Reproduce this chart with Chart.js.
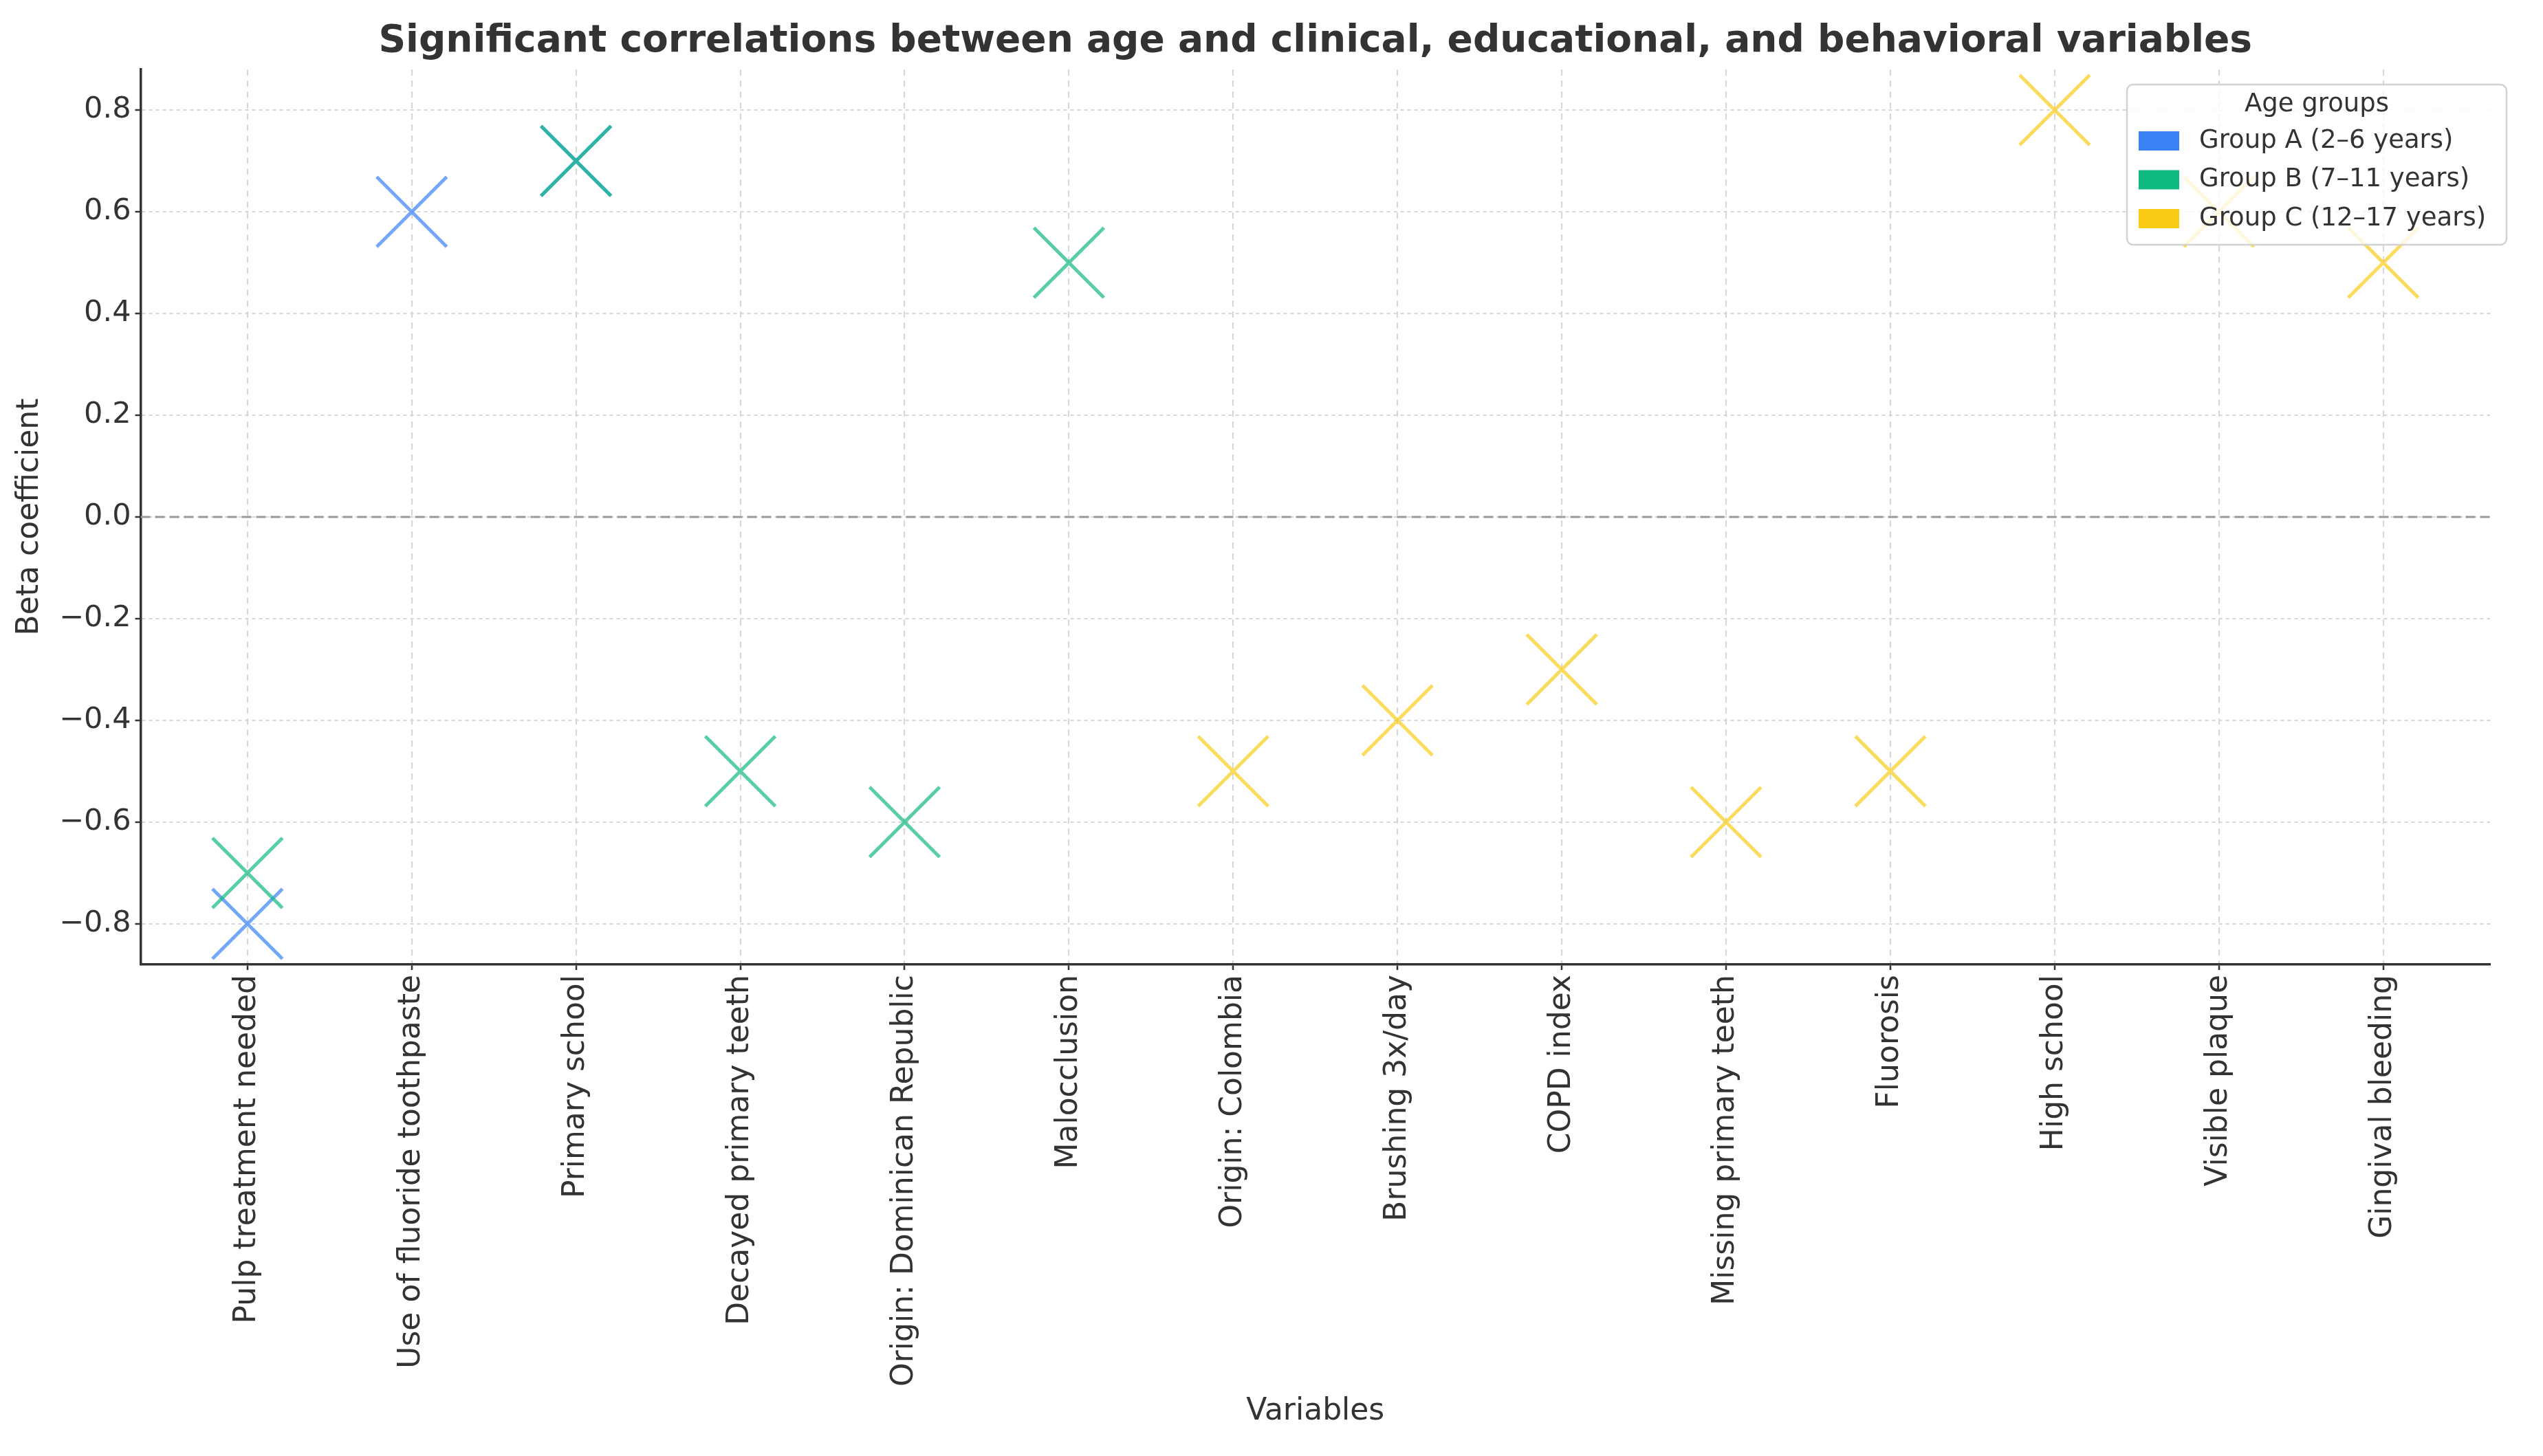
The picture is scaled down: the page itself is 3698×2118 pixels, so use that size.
<!DOCTYPE html>
<html lang="en">
<head>
<meta charset="UTF-8" />
<title>Significant correlations between age and clinical, educational, and behavioral variables</title>
<script src="https://cdn.jsdelivr.net/npm/chart.js@4.4.1/dist/chart.umd.min.js"></script>
<style>
  body { margin: 0; padding: 0; background: #fff; }
  #chart { display: block; }
</style>
</head>
<body>
<canvas id="chart" width="3698" height="2118"></canvas>
<script>
const categories = [
  'Pulp treatment needed', 'Use of fluoride toothpaste', 'Primary school',
  'Decayed primary teeth', 'Origin: Dominican Republic', 'Malocclusion',
  'Origin: Colombia', 'Brushing 3x/day', 'COPD index', 'Missing primary teeth',
  'Fluorosis', 'High school', 'Visible plaque', 'Gingival bleeding'
]
const groupA = [-0.8, 0.6, 0.7, null, null, null, null, null, null, null, null, null, null, null]
const groupB = [-0.7, null, 0.7, -0.5, -0.6, 0.5, null, null, null, null, null, null, null, null]
const groupC = [null, null, null, null, null, null, -0.5, -0.4, -0.3, -0.6, -0.5, 0.8, 0.6, 0.5]
const groupNames = ['Group A (2–6 years)', 'Group B (7–11 years)', 'Group C (12–17 years)']
const groupColors = ['#3b82f6', '#10b981', '#facc15']
const yTicks = [-0.8, -0.6, -0.4, -0.2, 0, 0.2, 0.4, 0.6, 0.8]

const FONT = "'DejaVu Sans', sans-serif"
const TEXT = '#333333'

const alpha = (hex, a) => {
  const n = parseInt(hex.slice(1), 16)
  return `rgba(${(n >> 16) & 255}, ${(n >> 8) & 255}, ${n & 255}, ${a})`
}

const toPoints = (values) =>
  values
    .map((v, i) => (v === null ? null : { x: i, y: v }))
    .filter((p) => p !== null)

const groups = [groupA, groupB, groupC]

const xMin = -0.65
const xMax = categories.length - 1 + 0.65

const markerSets = groups.map((values, i) => ({
  label: groupNames[i],
  data: toPoints(values),
  pointStyle: 'crossRot',
  pointRadius: 72,
  pointHoverRadius: 72,
  pointBorderWidth: 5,
  borderColor: alpha(groupColors[i], 0.7),
  backgroundColor: alpha(groupColors[i], 0.7),
  order: 3 - i,
}))

const zeroLine = {
  label: 'zero',
  data: [{ x: xMin, y: 0 }, { x: xMax, y: 0 }],
  showLine: true,
  pointRadius: 0,
  borderColor: '#999999',
  borderWidth: 3,
  borderDash: [14, 7],
  order: 10,
}

// title above the plot area and the "Age groups" legend box inside it
const decor = {
  id: 'decor',
  afterDatasetsDraw(chart) {
    const { ctx, chartArea } = chart
    ctx.save()
    ctx.fillStyle = TEXT
    ctx.font = `bold 55px ${FONT}`
    ctx.textAlign = 'center'
    ctx.textBaseline = 'middle'
    ctx.fillText(
      'Significant correlations between age and clinical, educational, and behavioral variables',
      (chartArea.left + chartArea.right) / 2,
      61
    )

    const bx = 3093, by = 123, bw = 552, bh = 233, r = 9
    ctx.beginPath()
    ctx.roundRect(bx, by, bw, bh, r)
    ctx.fillStyle = 'rgba(255,255,255,0.8)'
    ctx.fill()
    ctx.lineWidth = 2.5
    ctx.strokeStyle = '#d2d2d2'
    ctx.stroke()

    ctx.fillStyle = TEXT
    ctx.font = `37px ${FONT}`
    ctx.textAlign = 'center'
    ctx.fillText('Age groups', bx + bw / 2, 152)

    ctx.textAlign = 'left'
    groupNames.forEach((name, i) => {
      const cy = 205 + i * 56.5
      ctx.fillStyle = groupColors[i]
      ctx.fillRect(bx + 17, cy - 14, 59, 28)
      ctx.fillStyle = TEXT
      ctx.fillText(name, bx + 105, cy)
    })
    ctx.restore()
  },
}

new Chart(document.getElementById('chart'), {
  type: 'scatter',
  data: { datasets: [...markerSets, zeroLine] },
  plugins: [decor],
  options: {
    responsive: false,
    devicePixelRatio: 1,
    animation: false,
    events: [],
    layout: { padding: { top: 101, right: 40, left: 0, bottom: 0 } },
    plugins: {
      legend: { display: false },
      tooltip: { enabled: false },
      title: { display: false },
    },
    scales: {
      x: {
        type: 'linear',
        min: xMin,
        max: xMax,
        afterBuildTicks: (scale) => {
          scale.ticks = categories.map((_, i) => ({ value: i }))
        },
        afterFit: (scale) => {
          scale.height = 715
        },
        ticks: {
          minRotation: 90,
          maxRotation: 90,
          autoSkip: false,
          padding: 7,
          color: TEXT,
          font: { family: FONT, size: 44 },
          callback: (value) => categories[value] ?? '',
        },
        grid: {
          color: '#d6d6d6',
          lineWidth: 2,
          tickColor: '#333333',
          tickLength: 8,
          tickWidth: 2.5,
          tickBorderDash: [],
        },
        border: { display: true, color: '#333333', width: 3.5, dash: [9, 7] },
        title: {
          display: true,
          text: 'Variables',
          color: TEXT,
          font: { family: FONT, size: 44 },
          padding: { top: 0, bottom: 38 },
        },
      },
      y: {
        min: -0.88,
        max: 0.88,
        afterBuildTicks: (scale) => {
          scale.ticks = yTicks.map((v) => ({ value: v }))
        },
        afterFit: (scale) => {
          scale.width = 204.5
        },
        ticks: {
          padding: 6,
          color: TEXT,
          font: { family: FONT, size: 43 },
          callback: (value) => {
            const s = Math.abs(value) < 1e-9 ? '0.0' : value.toFixed(1)
            return s.replace('-', '\u2212')
          },
        },
        grid: {
          color: '#d6d6d6',
          lineWidth: 2,
          tickColor: '#333333',
          tickLength: 8,
          tickWidth: 2.5,
          tickBorderDash: [],
        },
        border: { display: true, color: '#333333', width: 3.5, dash: [5, 5] },
        title: {
          display: true,
          text: 'Beta coefficient',
          color: TEXT,
          font: { family: FONT, size: 44 },
          padding: { top: 17, bottom: 0 },
        },
      },
    },
  },
})
</script>
</body>
</html>
